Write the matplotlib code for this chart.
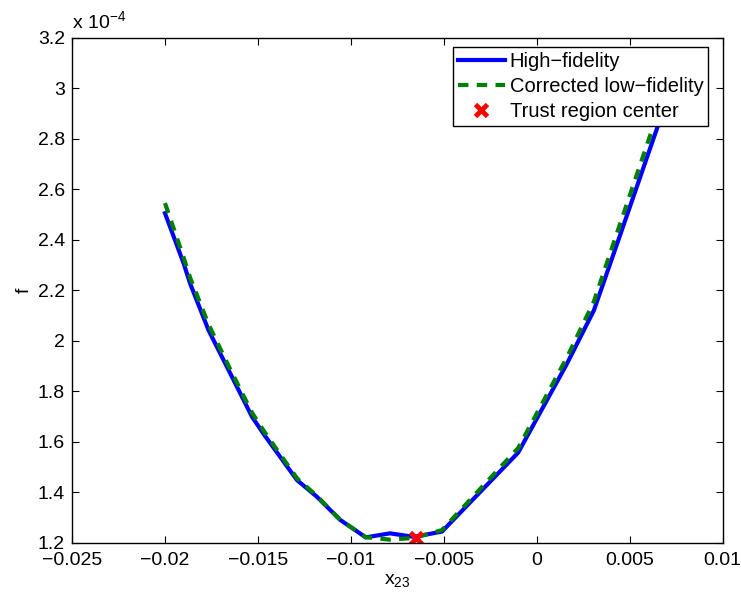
import matplotlib
matplotlib.use('Agg')
from matplotlib import pyplot as plt

plt.rcParams['font.family'] = ['Liberation Sans', 'DejaVu Sans']
plt.rcParams['mathtext.default'] = 'regular'

# design variable x23 and objective f (in units of 1e-4)
x_hi = [-0.0200, -0.0190, -0.01865, -0.01766, -0.01658, -0.01532, -0.01466,
        -0.0129, -0.01183, -0.01057, -0.0092, -0.0079, -0.0066, -0.0051,
        -0.0010, 0.00163, 0.00307, 0.00433, 0.0065, 0.0075]
f_hi = [2.505, 2.307, 2.227, 2.042, 1.884, 1.699, 1.627,
        1.448, 1.382, 1.290, 1.221, 1.237, 1.223, 1.244,
        1.557, 1.910, 2.120, 2.386, 2.848, 3.070]

x_lo = [-0.0200, -0.0190, -0.01865, -0.01766, -0.01658, -0.01532, -0.01466,
        -0.0129, -0.01183, -0.01057, -0.0092, -0.0079, -0.0066, -0.0051,
        -0.0010, 0.00163, 0.00307, 0.00433, 0.0065, 0.0075]
f_lo = [2.545, 2.330, 2.250, 2.065, 1.900, 1.715, 1.640,
        1.455, 1.385, 1.290, 1.222, 1.212, 1.219, 1.250,
        1.575, 1.935, 2.155, 2.430, 2.900, 3.120]

x_center = [-0.0065]
f_center = [1.2175]

xticks = [-0.025, -0.02, -0.015, -0.01, -0.005, 0, 0.005, 0.01]
xticklabels = ['\u22120.025', '\u22120.02', '\u22120.015', '\u22120.01',
               '\u22120.005', '0', '0.005', '0.01']
yticks = [1.2, 1.4, 1.6, 1.8, 2.0, 2.2, 2.4, 2.6, 2.8, 3.0, 3.2]
yticklabels = ['1.2', '1.4', '1.6', '1.8', '2', '2.2', '2.4', '2.6', '2.8', '3', '3.2']

fig = plt.figure(figsize=(7.41, 5.99), dpi=100)
ax = fig.add_axes([0.0972, 0.094, 0.8781, 0.843])

ax.plot(x_hi, f_hi, color=(0, 0, 1), lw=3, label='High\u2212fidelity')
ax.plot(x_lo, f_lo, color=(0, 0.5, 0), lw=3, ls=(0, (2.5, 2)),
        label='Corrected low\u2212fidelity')
ax.plot(x_center, f_center, ls='none', marker='x', color='r', ms=9, mew=3.5,
        label='Trust region center')

ax.set_xlim(-0.025, 0.01)
ax.set_ylim(1.2, 3.2)
ax.set_xticks(xticks)
ax.set_xticklabels(xticklabels)
ax.set_yticks(yticks)
ax.set_yticklabels(yticklabels)
ax.tick_params(axis='both', direction='in', top=True, right=True,
               length=5, width=0.8, labelsize=14)
ax.tick_params(axis='x', pad=7)
ax.tick_params(axis='y', pad=5)
for s in ax.spines.values():
    s.set_linewidth(1)

ax.text(0.0, 1.012, 'x 10$^{\u22124}$', transform=ax.transAxes, fontsize=14,
        ha='left', va='bottom')
ax.set_xlabel('x$_{23}$', fontsize=14, labelpad=2)
ax.set_ylabel('f', fontsize=14, labelpad=4)

leg = ax.legend(loc='upper right', bbox_to_anchor=(0.978, 0.981),
                borderaxespad=0, fontsize=14.5, fancybox=False, framealpha=1,
                edgecolor='k', handlelength=2.3, handletextpad=0.25,
                labelspacing=0.28, borderpad=0.25)
leg.get_frame().set_linewidth(1)

fig.savefig('out.png', dpi=100)
